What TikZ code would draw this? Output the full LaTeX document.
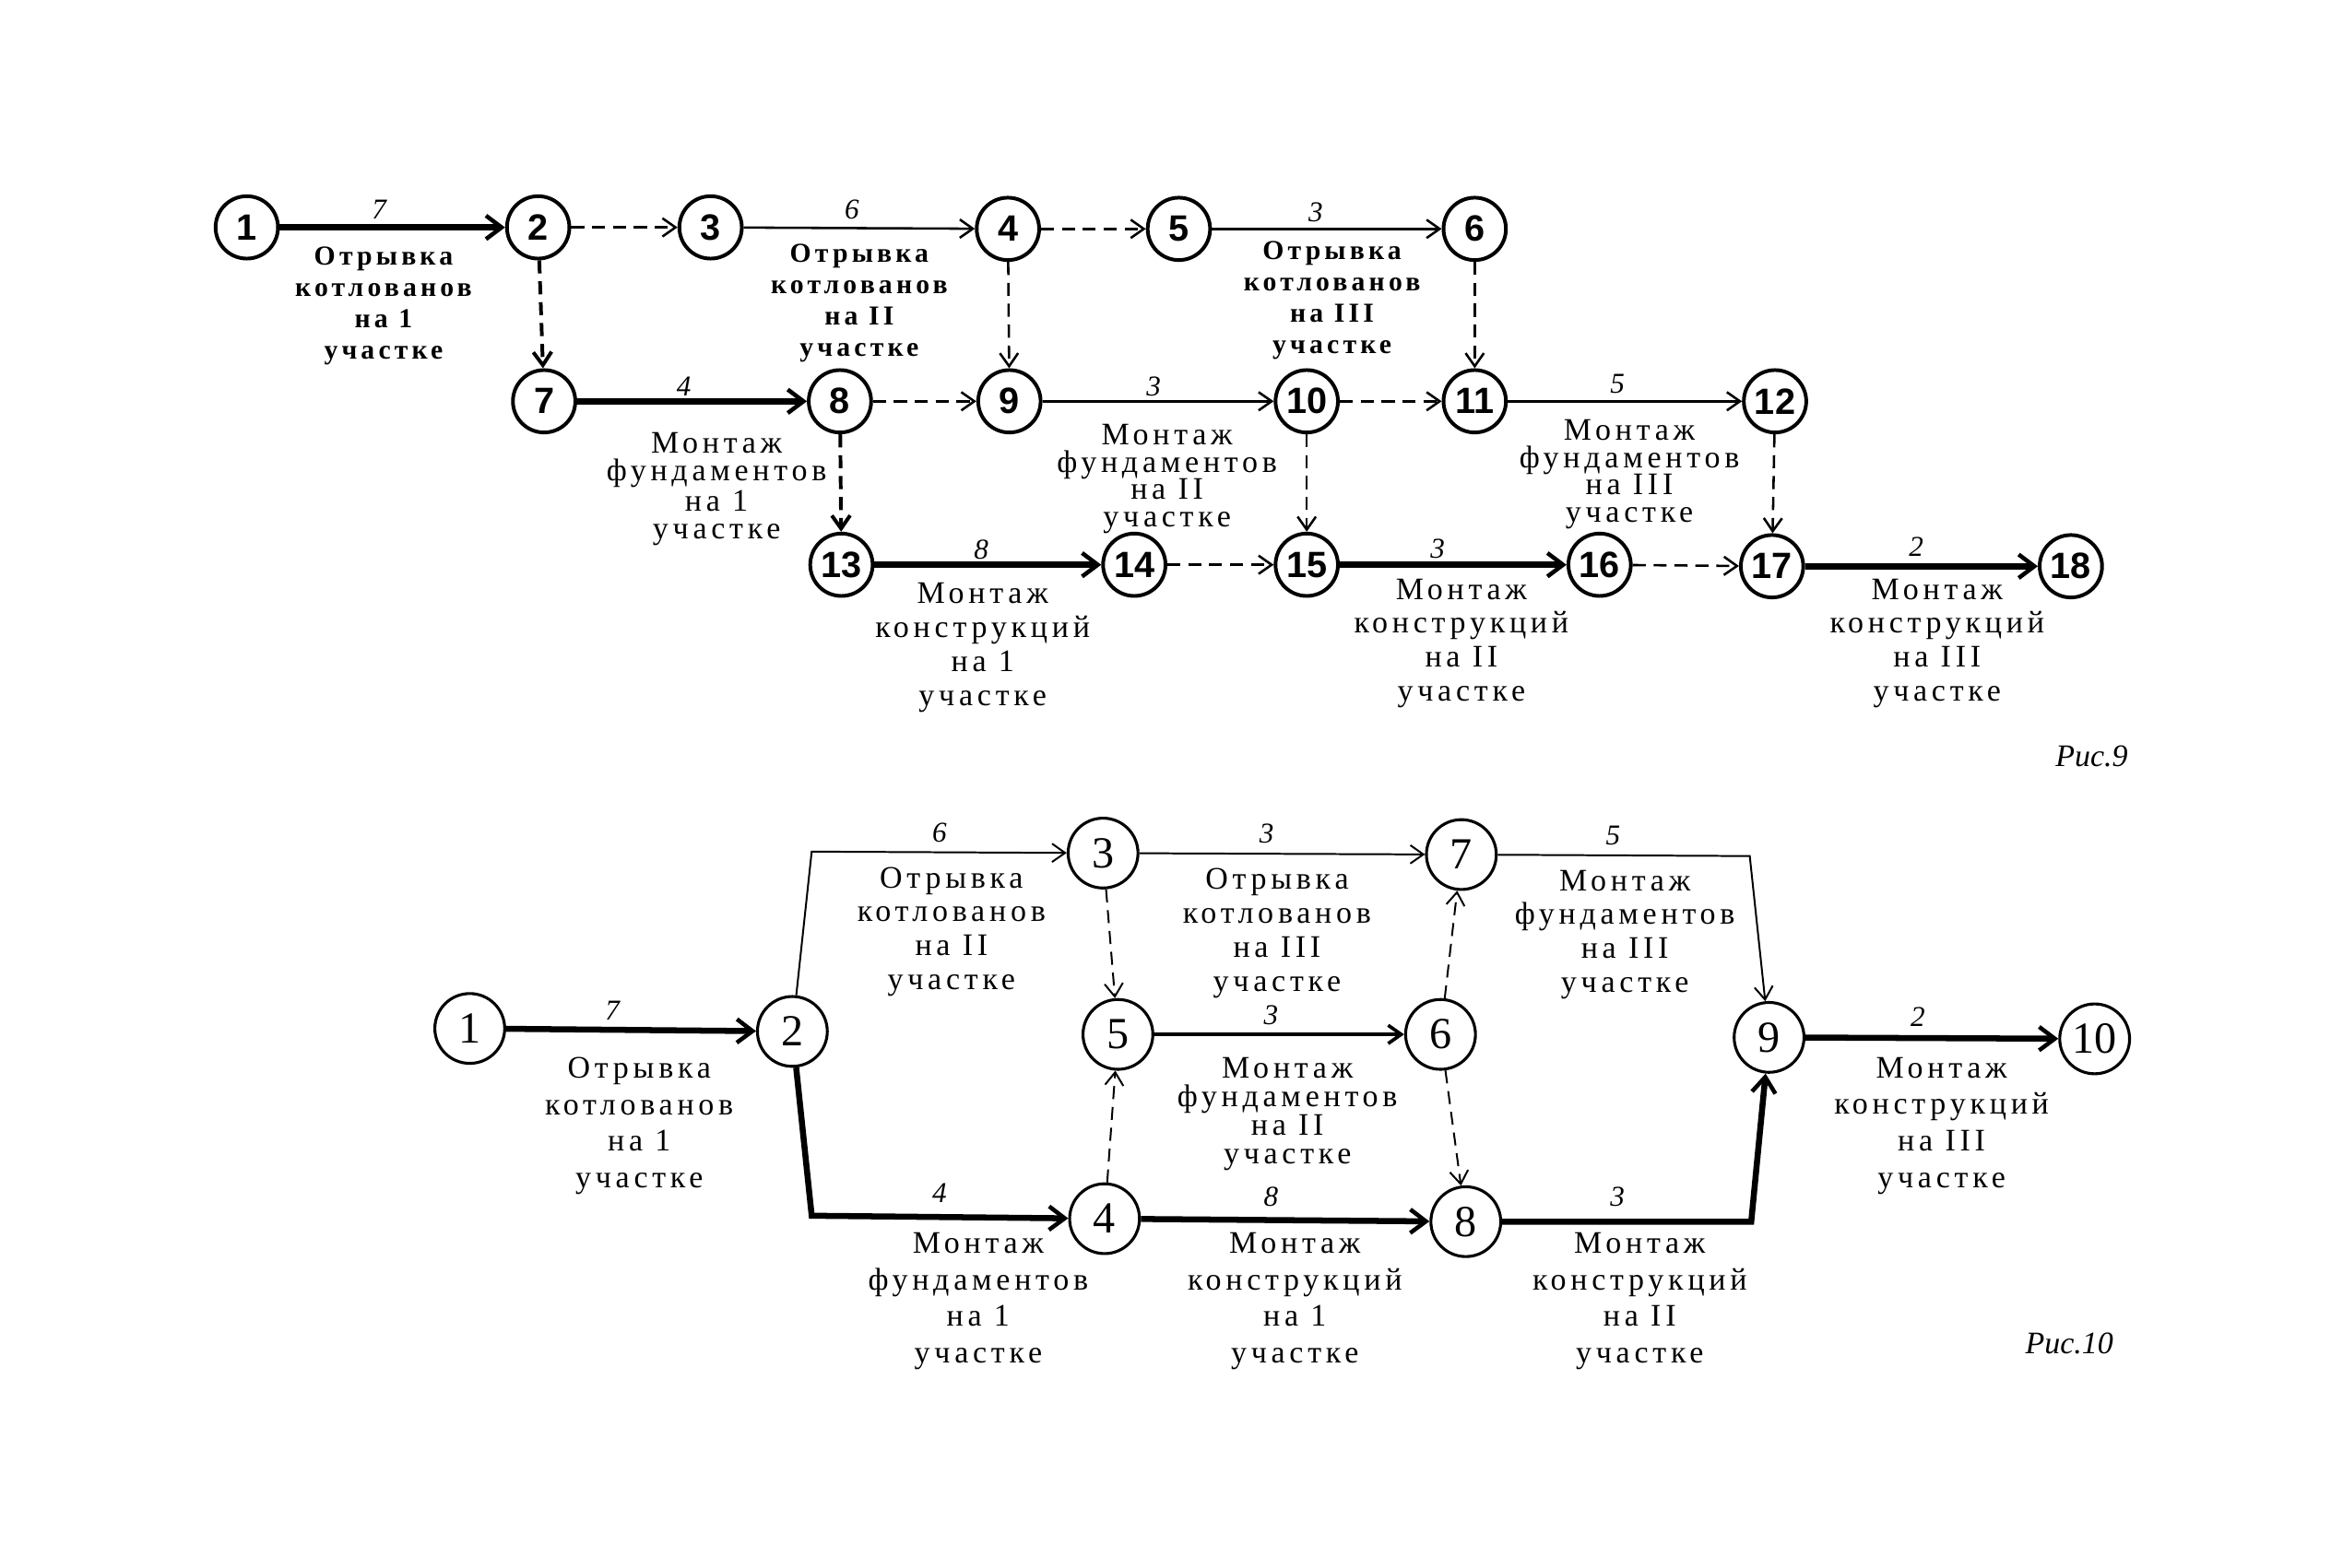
\documentclass[tikz,border=0pt]{standalone}
\usepackage{fontspec}
\setmainfont{Liberation Serif}
\newfontfamily\labfont[LetterSpace=14]{Liberation Serif}
\newfontfamily\evfont{Liberation Sans}
\usetikzlibrary{arrows.meta}

\begin{document}
\begin{tikzpicture}[
x=0.02cm, y=-0.02cm,
ev/.style={circle, draw, line width=1.4pt, minimum size=0.84cm, inner sep=0pt, font=\evfont\bfseries\fontsize{14}{14}\selectfont},
evb/.style={circle, draw, line width=1.1pt, minimum size=0.94cm, inner sep=0pt, font=\fontsize{17}{17}\selectfont},
act/.style={line width=0.9pt, -{Straight Barb[length=5pt,width=7pt]}},
crit/.style={line width=2.3pt, -{Straight Barb[length=6pt,width=9pt,line width=1.6pt]}},
dum/.style={act, dash pattern=on 5pt off 3pt},
lab/.style={font=\labfont\fontsize{12}{#1}\selectfont, align=center, inner sep=0pt, anchor=north},
lab/.default=13pt,
labb/.style={lab, font=\labfont\bfseries\fontsize{10.5}{#1}\selectfont},
labb/.default=12pt,
dur/.style={font=\itshape\fontsize{11}{11}\selectfont, inner sep=0pt}
]
\useasboundingbox (0,0) rectangle (1568,1055);

% Рис. 9
\node[ev] (a1) at (166,153) {1};
\node[ev] (a2) at (362,153) {2};
\node[ev] (a3) at (478,153) {3};
\node[ev] (a4) at (678,154) {4};
\node[ev] (a5) at (793,154) {5};
\node[ev] (a6) at (992,154) {6};
\node[ev] (a7) at (366,270) {7};
\node[ev] (a8) at (565,270) {8};
\node[ev] (a9) at (679,270) {9};
\node[ev] (a10) at (879,270) {10};
\node[ev] (a11) at (992,270) {11};
\node[ev] (a12) at (1194,270) {12};
\node[ev] (a13) at (566,380) {13};
\node[ev] (a14) at (763,380) {14};
\node[ev] (a15) at (879,380) {15};
\node[ev] (a16) at (1076,380) {16};
\node[ev] (a17) at (1192,381) {17};
\node[ev] (a18) at (1393,381) {18};

\draw[crit] (a1) -- (a2);
\draw[dum] (a2) -- (a3);
\draw[act] (a3) -- (a4);
\draw[dum] (a4) -- (a5);
\draw[act] (a5) -- (a6);
\draw[dum, line width=1.4pt] (a2) -- (a7);
\draw[dum] (a4) -- (a9);
\draw[dum] (a6) -- (a11);
\draw[crit] (a7) -- (a8);
\draw[dum] (a8) -- (a9);
\draw[act] (a9) -- (a10);
\draw[dum] (a10) -- (a11);
\draw[act] (a11) -- (a12);
\draw[dum, line width=1.4pt] (a8) -- (a13);
\draw[dum] (a10) -- (a15);
\draw[dum] (a12) -- (a17);
\draw[crit] (a13) -- (a14);
\draw[dum] (a14) -- (a15);
\draw[crit] (a15) -- (a16);
\draw[dum] (a16) -- (a17);
\draw[crit] (a17) -- (a18);

\node[dur] (da12) at (255,141) {7};
\node[dur] (da34) at (573,141) {6};
\node[dur] (da56) at (885,143) {3};
\node[dur] (da78) at (460,260) {4};
\node[dur] (da910) at (776,260) {3};
\node[dur] (da1112) at (1088,258) {5};
\node[dur] (da1314) at (660,370) {8};
\node[dur] (da1516) at (967,369) {3};
\node[dur] (da1718) at (1289,368) {2};

\node[labb] (ta12) at (258,166) {Отрывка\\котлованов\\на 1\\участке};
\node[labb] (ta34) at (578,164) {Отрывка\\котлованов\\на II\\участке};
\node[labb] (ta56) at (896,162) {Отрывка\\котлованов\\на III\\участке};
\node[lab=10.5pt] (ta78) at (482,291) {Монтаж\\фундаментов\\на 1\\участке};
\node[lab=10.5pt] (ta910) at (785,285) {Монтаж\\фундаментов\\на II\\участке};
\node[lab=10.5pt] (ta1112) at (1096,282) {Монтаж\\фундаментов\\на III\\участке};
\node[lab=13pt] (ta1314) at (661,392) {Монтаж\\конструкций\\на 1\\участке};
\node[lab=13pt] (ta1516) at (983,389) {Монтаж\\конструкций\\на II\\участке};
\node[lab=13pt] (ta1718) at (1303,389) {Монтаж\\конструкций\\на III\\участке};

\node[font=\itshape\fontsize{12}{12}\selectfont] (cap9) at (1407,509) {Рис.9};

% Рис. 10
\node[evb] (b1) at (316,692) {1};
\node[evb] (b2) at (533,694) {2};
\node[evb] (b3) at (742,574) {3};
\node[evb] (b4) at (743,820) {4};
\node[evb] (b5) at (752,696) {5};
\node[evb] (b6) at (969,696) {6};
\node[evb] (b7) at (983,575) {7};
\node[evb] (b8) at (986,822) {8};
\node[evb] (b9) at (1190,698) {9};
\node[evb] (b10) at (1409,699) {10};

\coordinate (k23) at (546,573);
\coordinate (k24) at (546,818);
\coordinate (k79) at (1177,576);
\coordinate (k89) at (1178,822);

\draw[crit] (b1) -- (b2);
\draw[act, line width=0.7pt] (b2) -- (k23) -- (b3);
\draw[crit] (b2) -- (k24) -- (b4);
\draw[dum, line width=0.7pt] (b3) -- (b5);
\draw[dum, line width=0.7pt] (b4) -- (b5);
\draw[act, line width=0.7pt] (b3) -- (b7);
\draw[act, line width=1.3pt] (b5) -- (b6);
\draw[dum, line width=0.7pt] (b6) -- (b7);
\draw[dum, line width=0.7pt] (b6) -- (b8);
\draw[crit] (b4) -- (b8);
\draw[act, line width=0.7pt] (b7) -- (k79) -- (b9);
\draw[crit] (b8) -- (k89) -- (b9);
\draw[crit] (b9) -- (b10);

\node[dur] (db12) at (412,680) {7};
\node[dur] (db23) at (632,560) {6};
\node[dur] (db37) at (852,561) {3};
\node[dur] (db79) at (1085,562) {5};
\node[dur] (db56) at (855,683) {3};
\node[dur] (db24) at (632,803) {4};
\node[dur] (db48) at (855,805) {8};
\node[dur] (db89) at (1088,805) {3};
\node[dur] (db910) at (1290,684) {2};

\node[lab=14pt] (tb12) at (430,711) {Отрывка\\котлованов\\на 1\\участке};
\node[lab=13pt] (tb23) at (640,583) {Отрывка\\котлованов\\на II\\участке};
\node[lab=13pt] (tb37) at (859,584) {Отрывка\\котлованов\\на III\\участке};
\node[lab=13pt] (tb79) at (1093,585) {Монтаж\\фундаментов\\на III\\участке};
\node[lab=11pt] (tb56) at (866,711) {Монтаж\\фундаментов\\на II\\участке};
\node[lab=14pt] (tb24) at (658,829) {Монтаж\\фундаментов\\на 1\\участке};
\node[lab=14pt] (tb48) at (871,829) {Монтаж\\конструкций\\на 1\\участке};
\node[lab=14pt] (tb89) at (1103,829) {Монтаж\\конструкций\\на II\\участке};
\node[lab=14pt] (tb910) at (1306,711) {Монтаж\\конструкций\\на III\\участке};

\node[font=\itshape\fontsize{12}{12}\selectfont] (cap10) at (1392,904) {Рис.10};

\end{tikzpicture}
\end{document}
